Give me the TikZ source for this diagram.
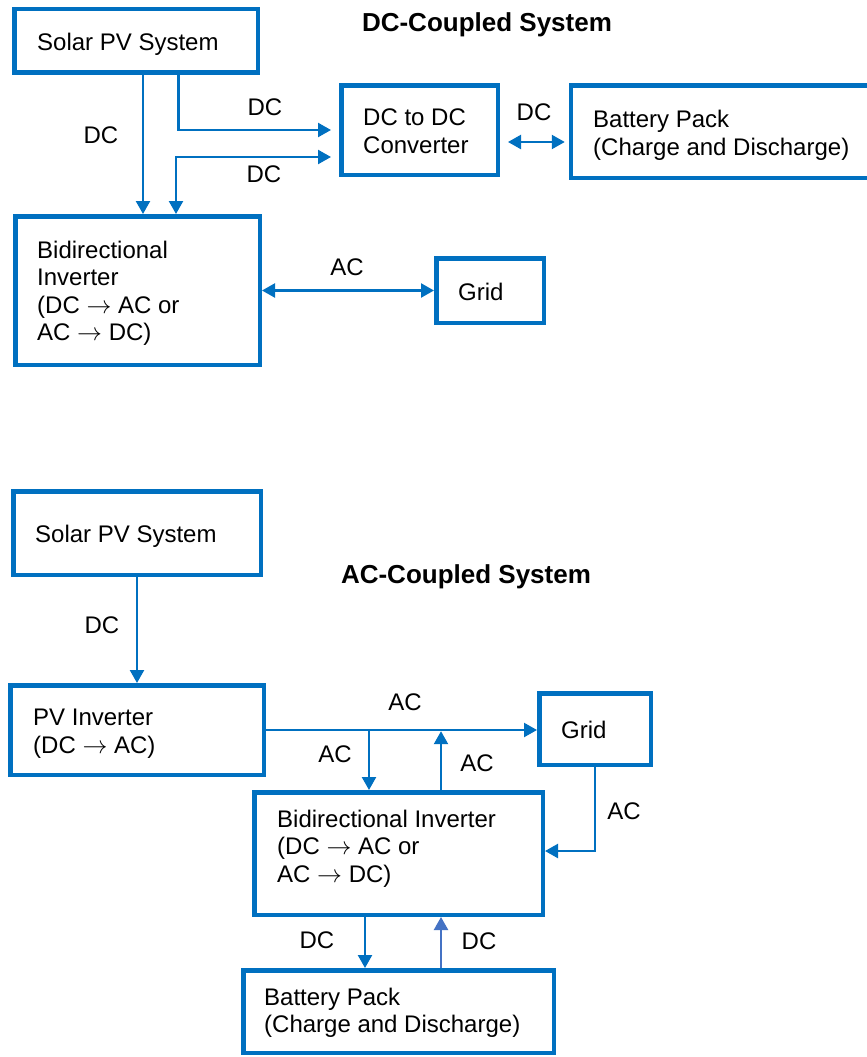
\documentclass[tikz,border=0pt]{standalone}
\usepackage{fontspec}
\setmainfont{Liberation Sans}
\usetikzlibrary{arrows.meta,calc}
\definecolor{boxblue}{RGB}{0,112,192}
\definecolor{steelblue}{RGB}{68,114,196}
\newcommand{\myarr}{\ $\rightarrow$\ }
\begin{document}
\begin{tikzpicture}[x=1pt,y=-1pt,
  box/.style={draw=boxblue,line width=4.5pt,inner sep=0pt,fill=white},
  txt/.style={anchor=base west,inner sep=0pt,font=\fontsize{24}{27.5}\selectfont},
  lbl/.style={anchor=center,inner sep=0pt,font=\fontsize{24}{27.5}\selectfont},
  ttl/.style={anchor=base,inner sep=0pt,font=\fontsize{26}{30}\selectfont\bfseries},
  arr/.style={draw=boxblue,line width=2.3pt,-{Triangle[length=13pt,width=14pt]}},
  darr/.style={draw=boxblue,line width=2.3pt,{Triangle[length=13pt,width=14pt]}-{Triangle[length=13pt,width=14pt]}}
]
\useasboundingbox (0,0) rectangle (867,1057);
\fill[white] (0,0) rectangle (867,1057);

% ---------------- DC-coupled ----------------
\node[ttl] (t1) at (487,31.5) {DC-Coupled System};
\node[box,minimum width=243.5pt,minimum height=63.5pt] (sA) at (136,41) {};
\node[box,minimum width=156.5pt,minimum height=89.5pt] (cA) at (419.5,130) {};
\node[box,minimum width=320pt,minimum height=92.5pt] (bA) at (731,131.5) {};
\node[box,minimum width=244.5pt,minimum height=148.5pt] (iA) at (137.5,290.5) {};
\node[box,minimum width=107.5pt,minimum height=64.5pt] (gA) at (490,290.5) {};

\node[txt] (sAt) at (37,50.5) {Solar PV System};
\node[txt] (cAt1) at (363,125.5) {DC to DC};
\node[txt] (cAt2) at (363,153.5) {Converter};
\node[txt] (bAt1) at (593,127.5) {Battery Pack};
\node[txt] (bAt2) at (593,155.5) {(Charge and Discharge)};
\node[txt] (iAt1) at (37,258.5) {Bidirectional};
\node[txt] (iAt2) at (37,285.5) {Inverter};
\node[txt] (iAt3) at (37,313.5) {(DC\myarr AC or};
\node[txt] (iAt4) at (37,340.5) {AC\myarr DC)};
\node[txt] (gAt) at (458,300.5) {Grid};

\coordinate (xa) at (143,0);
\coordinate (xb) at (178.5,0);
\coordinate (yb) at (0,130);
\coordinate (xc) at (176,0);
\coordinate (yc) at (0,157);
\coordinate (yd) at (0,142);

\draw[arr] (xa |- sA.south) -- (xa |- iA.north);
\draw[arr,shorten >=8pt] (xb |- sA.south) |- (cA.west |- yb);
\draw[darr,shorten <=8pt] (cA.west |- yc) -| (xc |- iA.north);
\draw[darr,shorten <=8pt,shorten >=4pt] (cA.east |- yd) -- (bA.west |- yd);
\draw[darr] (iA.east |- gA.west) -- (gA.west);

\node[lbl] (l1) at (101,135) {DC};
\node[lbl] (l2) at (265,107) {DC};
\node[lbl] (l3) at (264,174) {DC};
\node[lbl] (l4) at (534,112) {DC};
\node[lbl] (l5) at (347,267) {AC};

% ---------------- AC-coupled ----------------
\node[ttl] (t2) at (466,583.5) {AC-Coupled System};
\node[box,minimum width=247.5pt,minimum height=83.5pt] (sB) at (137,533) {};
\node[box,minimum width=253.5pt,minimum height=89.5pt] (pB) at (137,730) {};
\node[box,minimum width=111.5pt,minimum height=71.5pt] (gB) at (595,729) {};
\node[box,minimum width=288.5pt,minimum height=122.5pt] (iB) at (398.5,853.5) {};
\node[box,minimum width=310.5pt,minimum height=82.5pt] (bB) at (398.5,1011.5) {};

\node[txt] (sBt) at (35,542.5) {Solar PV System};
\node[txt] (pBt1) at (33,725.5) {PV Inverter};
\node[txt] (pBt2) at (33,753.5) {(DC\myarr AC)};
\node[txt] (gBt) at (561,738.5) {Grid};
\node[txt] (iBt1) at (277,827.5) {Bidirectional Inverter};
\node[txt] (iBt2) at (277,854.5) {(DC\myarr AC or};
\node[txt] (iBt3) at (277,882.5) {AC\myarr DC)};
\node[txt] (bBt1) at (264,1005.5) {Battery Pack};
\node[txt] (bBt2) at (264,1032.5) {(Charge and Discharge)};

\coordinate (x137) at (137,0);
\coordinate (x369) at (369,0);
\coordinate (x441) at (441,0);
\coordinate (x595) at (595,0);
\coordinate (x365) at (365,0);
\coordinate (y851) at (0,851);

\draw[arr] (x137 |- sB.south) -- (x137 |- pB.north);
\draw[arr] (pB.east) -- (gB.west |- pB.east);
\draw[arr] (x369 |- pB.east) -- (x369 |- iB.north);
\draw[arr,shorten >=1.2pt] (x441 |- iB.north) -- (x441 |- pB.east);
\draw[arr] (x595 |- gB.south) |- (iB.east |- y851);
\draw[arr] (x365 |- iB.south) -- (x365 |- bB.north);
\draw[arr,draw=steelblue,fill=steelblue] (x441 |- bB.north) -- (x441 |- iB.south);

\node[lbl] (m1) at (102,625) {DC};
\node[lbl] (m2) at (405,702) {AC};
\node[lbl] (m3) at (335,754) {AC};
\node[lbl] (m4) at (477,763) {AC};
\node[lbl] (m5) at (624,811) {AC};
\node[lbl] (m6) at (317,940) {DC};
\node[lbl] (m7) at (479,941) {DC};
\end{tikzpicture}
\end{document}
